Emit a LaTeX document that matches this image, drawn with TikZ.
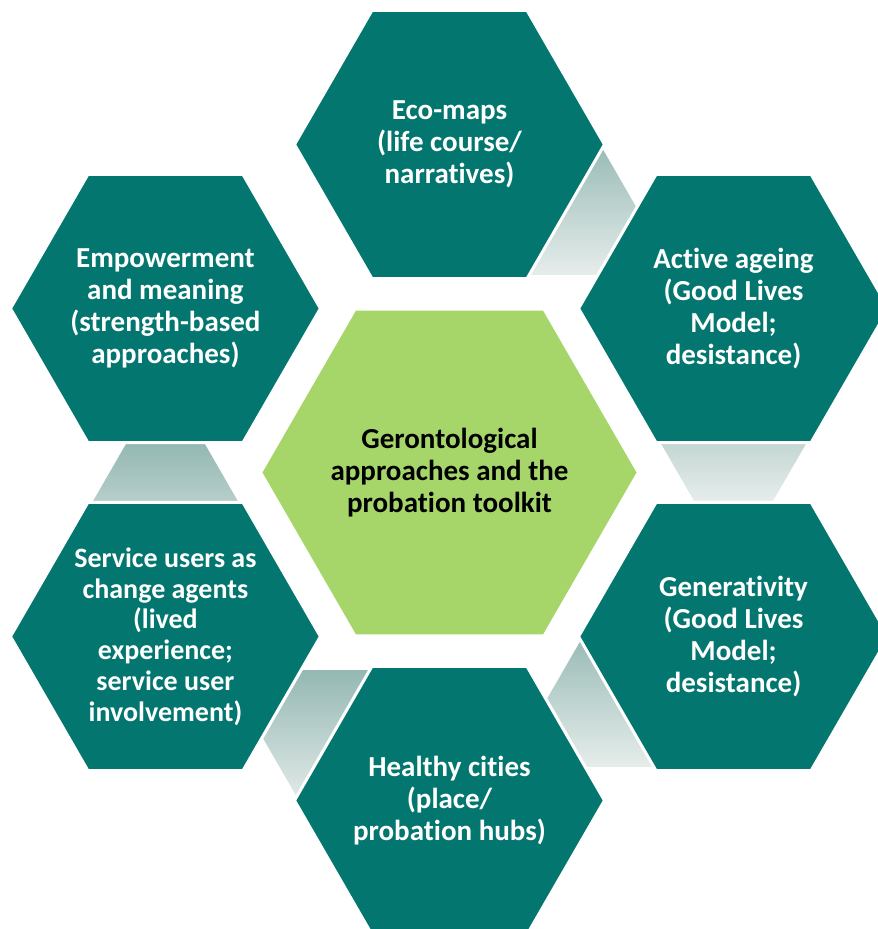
\documentclass[tikz,border=0pt]{standalone}
\usepackage{fontspec}
\setmainfont{Carlito}[Ligatures=NoCommon]
\usetikzlibrary{shapes.geometric,calc,backgrounds}

\definecolor{hexteal}{RGB}{3,119,111}
\definecolor{hexgreen}{RGB}{166,214,106}
\definecolor{linkdark}{RGB}{148,184,179}
\definecolor{linklight}{RGB}{230,237,235}

\tikzset{
    hexbase/.style={regular polygon, regular polygon sides=6, inner sep=0pt, outer sep=0pt},
    outerhex/.style={hexbase, minimum size=310pt, fill=hexteal, draw=white, line width=3pt},
    centrehex/.style={hexbase, minimum size=374pt, fill=hexgreen},
    linkhex/.style={hexbase, minimum size=158pt, top color=linkdark, bottom color=linklight},
    hextext/.style={align=center, text=white, font=\bfseries\fontsize{29}{32}\selectfont},
}

\begin{document}
\begin{tikzpicture}[x=1pt, y=1pt]
    \useasboundingbox (-449.5, -456.5) rectangle (428.5, 472.5);
    % centre
    \node[centrehex] (gero) at (0, 0) {};
    \node[hextext, text=black] (gerotext) at (gero) {Gerontological\\approaches and the\\probation toolkit};
    % ring of hexagons
    \node[outerhex] (eco) at (90:328) {};
    \node[hextext] (ecotext) at (eco) {Eco-maps\\(life course/\\narratives)};
    \node[outerhex] (active) at (30:328) {};
    \node[hextext] (activetext) at (active) {Active ageing\\(Good Lives\\Model;\\desistance)};
    \node[outerhex] (gener) at (-30:328) {};
    \node[hextext] (genertext) at (gener) {Generativity\\(Good Lives\\Model;\\desistance)};
    \node[outerhex] (cities) at (-90:328) {};
    \node[hextext] (citiestext) at (cities) {Healthy cities\\(place/\\probation hubs)};
    \node[outerhex] (service) at (-150:328) {};
    \node[hextext, font=\bfseries\fontsize{28}{30.8}\selectfont] (servicetext) at (service) {Service users as\\change agents\\(lived\\experience;\\service user\\involvement)};
    \node[outerhex] (empower) at (150:328) {};
    \node[hextext] (empowertext) at (empower) {Empowerment\\and meaning\\(strength-based\\approaches)};
    % links behind the ring
    \begin{scope}[on background layer]
        \foreach \a/\b [count=\i] in {eco/active, active/gener, gener/cities, cities/service, service/empower}
            \node[linkhex] (link\i) at ($(\a)!.5!(\b)!40pt!(\a)$) {};
    \end{scope}
\end{tikzpicture}
\end{document}
